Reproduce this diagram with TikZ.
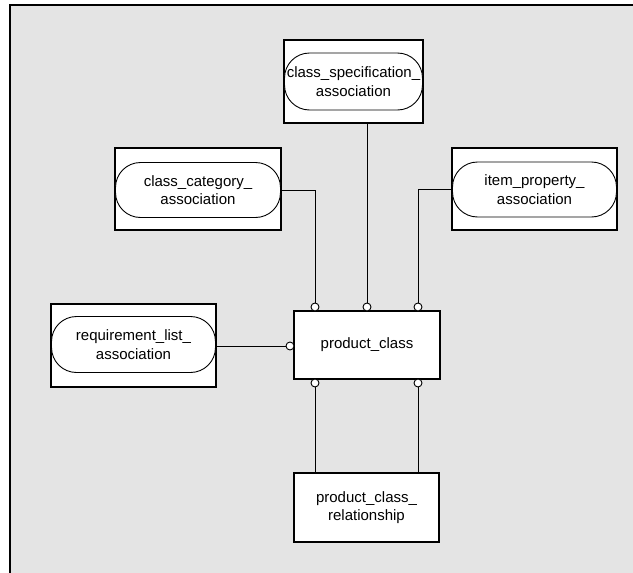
\documentclass[tikz,border=0pt]{standalone}
\usepackage{fontspec}
\setmainfont{Liberation Sans}
\definecolor{bggray}{RGB}{228,228,228}
\tikzset{
  ent/.style={draw=black, line width=1.2pt, fill=white, inner sep=0pt},
  pill/.style={draw=black, line width=0.9pt, fill=white, rounded corners=25pt, inner sep=0pt, align=center, font=\fontsize{15}{18.5}\selectfont},
  lbl/.style={align=center, font=\fontsize{15}{18.5}\selectfont},
  opt/.style={circle, draw=black, line width=0.9pt, fill=white, minimum size=8pt, inner sep=0pt},
  conn/.style={draw=black, line width=1pt}
}
\begin{document}
\begin{tikzpicture}[x=1pt,y=-1pt]
\useasboundingbox (0,0) rectangle (633,573);
\fill[bggray] (10,5) rectangle (633,573);
\draw[line width=1.2pt] (10,573) -- (10,5) -- (633,5);

% entity boxes
\node[ent, minimum width=139pt, minimum height=83pt] (sb) at (353.5,81.5) {};
\node[pill, minimum width=138pt, minimum height=57pt] (sp) at (353.5,81.5) {class\_specification\_\\association};

\node[ent, minimum width=166pt, minimum height=82pt] (cb) at (198,189) {};
\node[pill, minimum width=165pt, minimum height=55pt] (cp) at (198,190) {class\_category\_\\association};

\node[ent, minimum width=165pt, minimum height=82pt] (ib) at (534.5,189) {};
\node[pill, minimum width=164pt, minimum height=55pt] (ip) at (534.5,189.5) {item\_property\_\\association};

\node[ent, minimum width=165pt, minimum height=83pt] (rb) at (133.5,345.5) {};
\node[pill, minimum width=164pt, minimum height=56pt] (rp) at (133.5,344.5) {requirement\_list\_\\association};

\node[ent, lbl, minimum width=146pt, minimum height=68pt] (pc) at (367,345) {product\_class};
\node[ent, lbl, minimum width=145pt, minimum height=69pt] (pcr) at (366.5,507.5) {product\_class\_\\relationship};

% optional-end circles
\node[opt] (t1) at (315,307) {};
\node[opt] (t2) at (367,307) {};
\node[opt] (t3) at (418,307) {};
\node[opt] (l1) at (290,346) {};
\node[opt] (b1) at (315,383) {};
\node[opt] (b2) at (418,383) {};

% connectors
\draw[conn] (t2.north) -- (t2 |- sb.south);
\draw[conn] (cp.east) -| (t1.north);
\draw[conn] (ip.west) -| (t3.north);
\draw[conn] (rp.east |- l1) -- (l1.west);
\draw[conn] (b1.south) -- (b1 |- pcr.north);
\draw[conn] (b2.south) -- (b2 |- pcr.north);
\end{tikzpicture}
\end{document}
